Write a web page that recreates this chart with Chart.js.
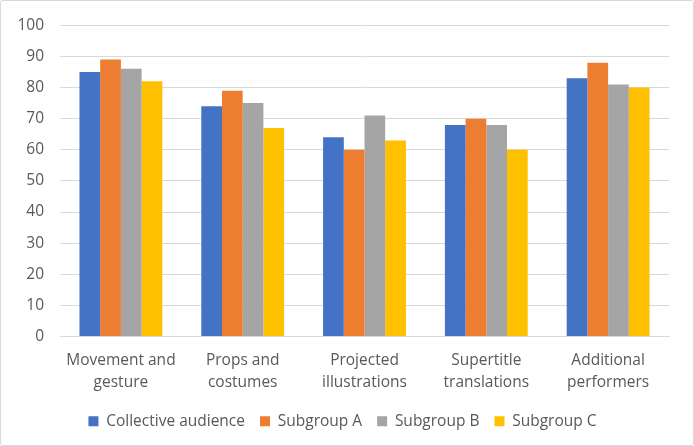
<!DOCTYPE html>
<html>
<head>
<meta charset="utf-8">
<script src="https://cdn.jsdelivr.net/npm/chart.js@4"></script>
<style>
  html, body { margin: 0; padding: 0; background: #fff; }
  .frame {
    position: absolute; left: 0; top: 0;
    width: 692px; height: 444px;
    border: 1px solid #d9d9d9; border-radius: 3px;
  }
  canvas { position: absolute; left: 0; top: 0; }
</style>
</head>
<body>
<div class="frame"></div>
<canvas data-id-chart width="694" height="446" style="width:694px;height:446px"></canvas>
<script>
const categories = [
  ['Movement and', 'gesture'],
  ['Props and', 'costumes'],
  ['Projected', 'illustrations'],
  ['Supertitle', 'translations'],
  ['Additional', 'performers']
]
const collectiveAudience = [85, 74, 64, 68, 83]
const subgroupA = [89, 79, 60, 70, 88]
const subgroupB = [86, 75, 71, 68, 81]
const subgroupC = [82, 67, 63, 60, 80]
const yTicks = [0, 10, 20, 30, 40, 50, 60, 70, 80, 90, 100]

const textColor = '#595959'
const gridColor = '#d9d9d9'
const fontFamily = '"Open Sans", Lato, sans-serif'

function series(label, data, color) {
  return {
    label,
    data,
    backgroundColor: color,
    borderWidth: 0,
    categoryPercentage: 0.68,
    barPercentage: 1.0,
  }
}

const ctx = document.querySelector('[data-id-chart]').getContext('2d')
const myChart = new Chart(ctx, {
  type: 'bar',
  data: {
    labels: categories,
    datasets: [
      series('Collective audience', collectiveAudience, '#4472c4'),
      series('Subgroup A', subgroupA, '#ed7d31'),
      series('Subgroup B', subgroupB, '#a5a5a5'),
      series('Subgroup C', subgroupC, '#ffc000'),
    ],
  },
  options: {
    responsive: false,
    animation: false,
    layout: { padding: { left: 16, right: 25, top: 22, bottom: 7 } },
    plugins: {
      legend: {
        position: 'bottom',
        labels: {
          boxWidth: 10,
          boxHeight: 10,
          padding: 15,
          color: textColor,
          font: { family: fontFamily, size: 15.5 },
        },
      },
      tooltip: { enabled: false },
    },
    scales: {
      x: {
        grid: { display: false },
        border: { display: true, color: gridColor, width: 1 },
        ticks: {
          color: textColor,
          font: { family: fontFamily, size: 15.5, lineHeight: 1.42 },
          padding: 5,
          maxRotation: 0,
        },
      },
      y: {
        min: 0,
        max: 100,
        afterBuildTicks: (axis) => {
          axis.ticks = yTicks.map((v) => ({ value: v }))
        },
        afterFit: (axis) => {
          axis.width = 44
        },
        grid: { color: gridColor, drawTicks: false },
        border: { display: false },
        ticks: {
          color: textColor,
          font: { family: fontFamily, size: 15.5 },
          padding: 16,
        },
      },
    },
  },
})
</script>
</body>
</html>
